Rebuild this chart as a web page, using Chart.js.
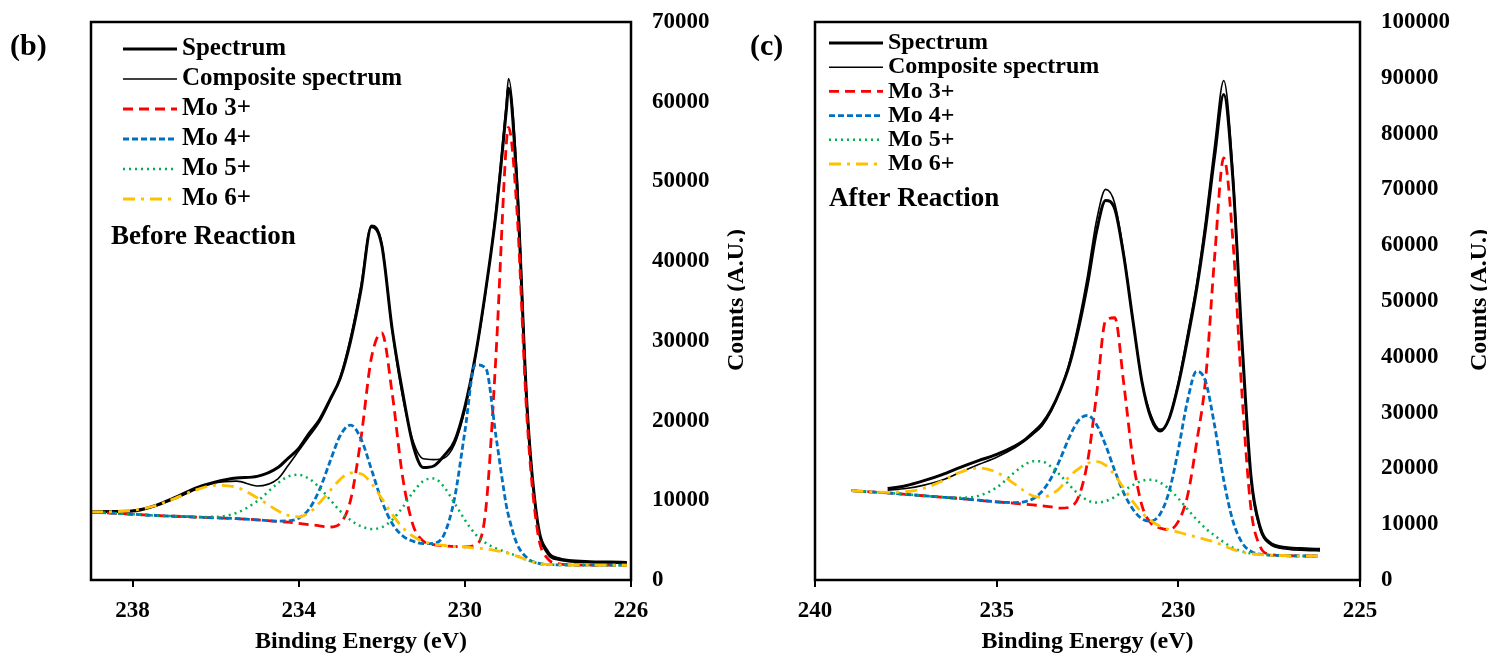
<!DOCTYPE html>
<html>
<head>
<meta charset="utf-8">
<script src="https://cdn.jsdelivr.net/npm/chart.js@4.4.0/dist/chart.umd.min.js"></script>
<style>
  body { margin: 0; background: #fff; }
  .panel { position: absolute; top: 0; height: 657px; }
  #wrapB { left: 0; width: 745px; }
  #wrapC { left: 745px; width: 742px; }
</style>
</head>
<body>
<div class="panel" id="wrapB"><canvas id="before"></canvas></div>
<div class="panel" id="wrapC"><canvas id="after"></canvas></div>
<script>
// series names and line styles (same in both panels)
const seriesNames = ["Spectrum", "Composite spectrum", "Mo 3+", "Mo 4+", "Mo 5+", "Mo 6+"];
const seriesColors = ["#000000", "#000000", "#ff0000", "#0070c0", "#00b050", "#ffc000"];
const seriesWidths = [3, 1.6, 2.8, 2.8, 2.5, 2.8];
const seriesDashes = [[], [], [10, 6], [6, 3], [2, 4], [12, 6, 3, 6]];
const drawOrder = [6, 5, 4, 3, 2, 1];

// panel (b) - before reaction
const energyB = [239, 238.5, 238, 237.5, 237, 236.5, 236, 235.5, 235, 234.5, 234.25, 234, 233.75, 233.5, 233.25, 233, 232.75, 232.5, 232.25, 232, 231.75, 231.5, 231.25, 231, 230.75, 230.5, 230.25, 230, 229.75, 229.5, 229.25, 229, 228.95, 228.75, 228.5, 228.25, 228, 227.75, 227.5, 227, 226.5, 226.1];
const spectrumB = [8560, 8600, 8650, 9250, 10300, 11500, 12300, 12800, 13000, 14100, 15300, 16500, 18400, 20100, 22600, 25300, 30000, 36400, 44300, 42000, 31500, 23600, 17000, 14100, 14300, 15600, 17400, 21700, 28000, 36300, 46000, 59000, 61700, 50000, 21500, 7300, 3500, 2700, 2450, 2300, 2250, 2200];
const compositeB = [8545, 8570, 8700, 9200, 10150, 11300, 12200, 12400, 11800, 12700, 14400, 16200, 18000, 19800, 22400, 25500, 30500, 37000, 44500, 42300, 31300, 23000, 17500, 15200, 15100, 15300, 17000, 21300, 27800, 36000, 46500, 60000, 62900, 51500, 22000, 7000, 3200, 2500, 2300, 2200, 2150, 2100];
const mo3B = [8500, 8400, 8250, 8100, 8000, 7900, 7800, 7700, 7550, 7350, 7250, 7100, 6950, 6800, 6650, 7110, 10050, 17800, 27850, 31000, 23450, 13000, 6920, 4880, 4440, 4300, 4200, 4160, 4375, 8650, 28250, 54800, 56780, 46700, 20000, 6100, 2650, 2050, 1910, 1870, 1860, 1850];
const mo4B = [8500, 8400, 8250, 8100, 8000, 7900, 7800, 7700, 7550, 7390, 7425, 7755, 8895, 11320, 14790, 18120, 19440, 17720, 13890, 9920, 7095, 5555, 4875, 4560, 4610, 5700, 10200, 18600, 27000, 26600, 18000, 9300, 8100, 4600, 2750, 2120, 1950, 1900, 1880, 1870, 1860, 1850];
const mo5B = [8500, 8400, 8250, 8100, 8000, 7910, 7930, 8405, 9890, 12150, 12995, 13200, 12695, 11600, 10110, 8640, 7505, 6745, 6405, 6620, 7530, 9100, 10985, 12410, 12740, 11670, 9660, 7540, 5760, 4660, 3980, 3485, 3400, 3020, 2500, 2100, 1950, 1900, 1880, 1870, 1860, 1850];
const mo6B = [8545, 8565, 8735, 9255, 10200, 11245, 11885, 11630, 10335, 8680, 8100, 7930, 8430, 9680, 11180, 12630, 13440, 13330, 12120, 10230, 8235, 6590, 5500, 4820, 4510, 4335, 4200, 4150, 4000, 3900, 3700, 3400, 3330, 3000, 2500, 2100, 1950, 1900, 1880, 1870, 1860, 1850];
const xTicksB = [238, 234, 230, 226];

// panel (c) - after reaction
const energyC = [239, 238.5, 238, 237.5, 237, 236.5, 236, 235.5, 235, 234.5, 234.25, 234, 233.75, 233.5, 233.25, 233, 232.75, 232.5, 232.25, 232, 231.75, 231.5, 231.25, 231, 230.75, 230.5, 230.25, 230, 229.75, 229.5, 229.25, 229, 228.75, 228.5, 228.25, 228, 227.75, 227.5, 227, 226.5, 226.1];
const spectrumC = [null, null, 16400, 16900, 17800, 18900, 20200, 21400, 22500, 24000, 25000, 26400, 28000, 30500, 34000, 38500, 45000, 53000, 62500, 68000, 66500, 58000, 46500, 35500, 29000, 26700, 29000, 35000, 43000, 52000, 63000, 76000, 87000, 72000, 43000, 18500, 9500, 6800, 5800, 5600, 5500];
const compositeC = [null, null, 16100, 16400, 17000, 17900, 19300, 20700, 22000, 23700, 24800, 26100, 27600, 30200, 34000, 39000, 46000, 54500, 64500, 70000, 67500, 58500, 46500, 35500, 29500, 27000, 29000, 35500, 44000, 53000, 64500, 78000, 89500, 73500, 42500, 18000, 9000, 6500, 5500, 5300, 5200];
const mo3C = [16000, 15800, 15600, 15350, 15100, 14850, 14600, 14300, 14000, 13750, 13600, 13450, 13300, 13100, 12870, 13030, 14830, 21140, 33280, 46500, 47000, 35100, 21620, 13320, 10160, 9300, 9000, 10500, 15000, 24500, 36000, 58000, 75650, 61000, 33500, 12710, 6040, 4625, 4350, 4300, 4300];
const mo4C = [16000, 15800, 15600, 15350, 15100, 14850, 14600, 14300, 14000, 13880, 14010, 14560, 15900, 18280, 21700, 25580, 28580, 29500, 27830, 24130, 19600, 15580, 12680, 10970, 10550, 11840, 15935, 23370, 32060, 37400, 35580, 27600, 17890, 10620, 6720, 5140, 4640, 4465, 4350, 4300, 4300];
const mo5C = [16000, 15800, 15600, 15350, 15100, 14870, 14750, 15080, 16580, 19330, 20580, 21295, 21230, 20300, 18780, 17030, 15410, 14290, 13870, 14140, 14895, 15995, 17025, 17780, 17985, 17470, 16275, 14620, 12700, 10865, 9250, 7960, 6770, 5800, 5135, 4755, 4570, 4450, 4350, 4300, 4300];
const mo6C = [16000, 15810, 15720, 15815, 16440, 17750, 19320, 20070, 19290, 17180, 16000, 15050, 14800, 15350, 16550, 18540, 19910, 20930, 21230, 20560, 18780, 16450, 14040, 12025, 10595, 9640, 9015, 8575, 8125, 7700, 7250, 6800, 6150, 5500, 5000, 4700, 4550, 4450, 4350, 4300, 4300];
const xTicksC = [240, 235, 230, 225];

Chart.defaults.font.family = '"Liberation Serif", "Times New Roman", serif';
Chart.defaults.font.weight = "bold";
Chart.defaults.color = "#000";

function toPoints(xs, ys) {
  const pts = [];
  xs.forEach((x, i) => {
    if (ys[i] !== null) pts.push({ x: x, y: ys[i] });
  });
  return pts;
}

// frame, legend, labels, right axis title
const panelDecor = {
  id: "panelDecor",
  afterDraw(chart, args, o) {
    const ctx = chart.ctx;
    const a = chart.chartArea;
    ctx.save();
    ctx.strokeStyle = "#000";
    ctx.lineWidth = 2.5;
    ctx.strokeRect(a.left, a.top, a.right - a.left, a.bottom - a.top);

    ctx.textBaseline = "middle";
    ctx.textAlign = "left";
    ctx.fillStyle = "#000";
    ctx.font = `bold ${o.legendSize}px "Liberation Serif"`;
    chart.data.datasets.forEach((ds, i) => {
      const y = o.legendTop + i * o.legendGap;
      ctx.beginPath();
      ctx.strokeStyle = ds.borderColor;
      ctx.lineWidth = ds.borderWidth;
      ctx.setLineDash(ds.borderDash);
      ctx.moveTo(o.legendX, y);
      ctx.lineTo(o.legendX + 54, y);
      ctx.stroke();
      ctx.setLineDash([]);
      ctx.fillText(ds.label, o.legendX + 59, y);
    });

    ctx.font = 'bold 27px "Liberation Serif"';
    ctx.fillText(o.note, o.noteX, o.noteY);
    ctx.font = 'bold 30px "Liberation Serif"';
    ctx.fillText(o.tag, o.tagX, 47);

    ctx.translate(o.titleX, 300);
    ctx.rotate(-Math.PI / 2);
    ctx.textAlign = "center";
    ctx.font = 'bold 24px "Liberation Serif"';
    ctx.fillText("Counts (A.U.)", 0, 0);
    ctx.restore();
  }
};

function makeChart(id, xs, series, xr, xTicks, yMax, yWidth, padLeft, decor) {
  const datasets = series.map((ys, i) => ({
    label: seriesNames[i],
    data: toPoints(xs, ys),
    borderColor: seriesColors[i],
    borderWidth: seriesWidths[i],
    borderDash: seriesDashes[i],
    order: drawOrder[i],
    pointRadius: 0,
    fill: false,
    cubicInterpolationMode: "monotone"
  }));
  return new Chart(document.getElementById(id), {
    type: "line",
    data: { datasets },
    plugins: [panelDecor],
    options: {
      responsive: true,
      maintainAspectRatio: false,
      animation: false,
      events: [],
      layout: { padding: { left: padLeft, top: 22, right: 0, bottom: 0 } },
      plugins: { legend: { display: false }, tooltip: { enabled: false }, panelDecor: decor },
      scales: {
        x: {
          type: "linear",
          reverse: true,
          min: xr[0],
          max: xr[1],
          afterBuildTicks: (s) => { s.ticks = xTicks.map((v) => ({ value: v })); },
          afterFit: (s) => { s.height = 77; },
          border: { display: false },
          grid: { drawOnChartArea: false, drawTicks: true, tickLength: 7, color: "#000", lineWidth: 2 },
          ticks: { padding: 10, font: { size: 23, weight: "bold" }, color: "#000" },
          title: { display: true, text: "Binding Energy (eV)", font: { size: 24, weight: "bold" }, color: "#000", padding: { top: 4, bottom: 1 } }
        },
        y: {
          position: "right",
          min: 0,
          max: yMax,
          afterFit: (s) => { s.width = yWidth; s.paddingTop = 0; s.paddingBottom = 0; },
          border: { display: false },
          grid: { display: false, drawTicks: false },
          ticks: { stepSize: 10000, padding: 21, font: { size: 23, weight: "bold" }, color: "#000", callback: (v) => String(v) }
        }
      }
    }
  });
}

makeChart("before", energyB, [spectrumB, compositeB, mo3B, mo4B, mo5B, mo6B], [226, 239], xTicksB, 70000, 114, 91, {
  legendX: 123, legendTop: 49, legendGap: 30, legendSize: 25,
  note: "Before Reaction", noteX: 111, noteY: 237,
  tag: "(b)", tagX: 10, titleX: 737
});

makeChart("after", energyC, [spectrumC, compositeC, mo3C, mo4C, mo5C, mo6C], [225, 240], xTicksC, 100000, 127, 70, {
  legendX: 84, legendTop: 43, legendGap: 24.2, legendSize: 24,
  note: "After Reaction", noteX: 84, noteY: 199,
  tag: "(c)", tagX: 5, titleX: 735
});
</script>
</body>
</html>
